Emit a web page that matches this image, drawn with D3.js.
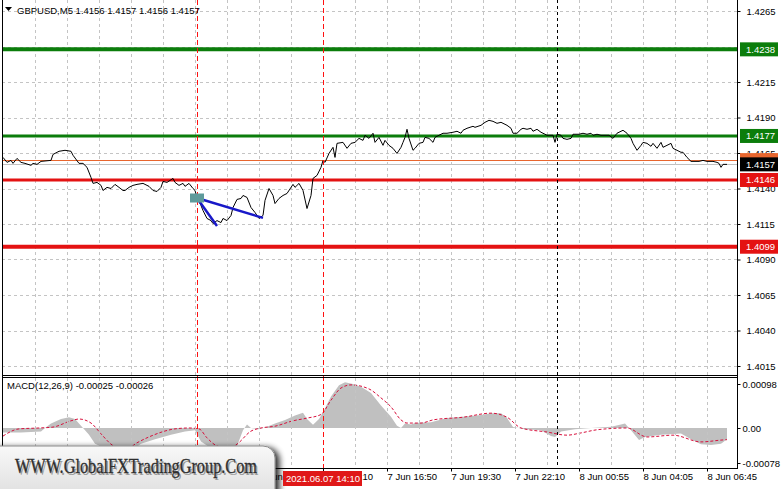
<!DOCTYPE html>
<html><head><meta charset="utf-8">
<script src="https://cdn.jsdelivr.net/npm/d3@7"></script>
<style>
body{margin:0;background:#fff}
svg{display:block}
</style>
</head><body>
<svg id="c" width="781" height="489" font-family="Liberation Sans, Arial, sans-serif"></svg>
<script>
// ---------- DATA ----------
const symbol = "GBPUSD,M5";
const ohlc = [1.4156, 1.4157, 1.4156, 1.4157];
const currentBid = 1.4157;
const orangeLevel = 1.4160;
const levelValues = [1.4238, 1.4177, 1.4146, 1.4099];
const gridPrices = [1.4265, 1.4240, 1.4215, 1.4190, 1.4165, 1.4140, 1.4115, 1.4090, 1.4065, 1.4040, 1.4015];
const priceTicks = [1.4265, 1.4215, 1.4190, 1.4165, 1.4140, 1.4115, 1.4090, 1.4065, 1.4040, 1.4015];
const macdTicks = [0.00098, 0, -0.00078];
const macdValues = [-0.00025, -0.00026];
const timeBars = [128, 160, 192, 224, 256, 288, 320, 352];
const timeLabels = ["7 Jun 11:30", "7 Jun 14:10", "7 Jun 16:50", "7 Jun 19:30", "7 Jun 22:10", "8 Jun 00:55", "8 Jun 04:05", "8 Jun 06:45"];
const markBars = [97, 160];      // red dashed verticals
const cursorBar = 277;           // black dashed vertical
const markLabel = "2021.06.07 14:10";
const arrowFrom = [97, 1.41333];
const arrowTo = [[130, 1.41193], [107, 1.41136]];
const watermark = "WWW.GlobalFXTradingGroup.Com";

// [bar index, close]
const priceData = [
[0,1.41619],[2,1.41584],[4,1.41598],[5,1.41577],[7,1.41612],[9,1.41584],[11,1.41577],[14,1.41563],[15,1.41577],[17,1.41570],
[19,1.41591],[24,1.41598],[25,1.41640],[28,1.41662],[31,1.41669],[34,1.41662],[35,1.41634],[38,1.41577],[40,1.41577],[42,1.41549],
[44,1.41478],[45,1.41436],[47,1.41443],[49,1.41422],[50,1.41386],[52,1.41408],[54,1.41400],[56,1.41429],[58,1.41408],[60,1.41386],
[61,1.41386],[63,1.41408],[65,1.41422],[67,1.41429],[70,1.41436],[73,1.41415],[75,1.41386],[77,1.41379],[79,1.41408],[80,1.41450],
[82,1.41443],[85,1.41471],[86,1.41443],[88,1.41422],[90,1.41436],[91,1.41415],[93,1.41436],[95,1.41400],[96,1.41386],[97,1.41337],
[99,1.41280],[100,1.41245],[102,1.41189],[104,1.41174],[105,1.41153],[107,1.41174],[109,1.41160],[110,1.41189],[112,1.41174],[114,1.41210],
[115,1.41266],[117,1.41323],[119,1.41330],[120,1.41351],[122,1.41337],[124,1.41266],[126,1.41231],[128,1.41189],[130,1.41210],[131,1.41316],
[133,1.41400],[135,1.41351],[136,1.41294],[138,1.41330],[140,1.41351],[142,1.41365],[145,1.41429],[146,1.41408],[148,1.41436],[150,1.41386],
[152,1.41259],[154,1.41351],[155,1.41471],[157,1.41492],[159,1.41549],[160,1.41598],[161,1.41584],[163,1.41647],[165,1.41690],[166,1.41619],
[167,1.41718],[170,1.41725],[172,1.41683],[174,1.41718],[176,1.41725],[178,1.41753],[180,1.41739],[181,1.41775],[183,1.41753],[185,1.41789],
[186,1.41725],[188,1.41760],[190,1.41704],[191,1.41739],[193,1.41704],[195,1.41683],[197,1.41647],[199,1.41690],[200,1.41725],[201,1.41760],
[202,1.41817],[203,1.41753],[205,1.41669],[206,1.41683],[208,1.41718],[210,1.41725],[211,1.41760],[213,1.41753],[215,1.41725],[216,1.41760],
[218,1.41775],[220,1.41789],[222,1.41789],[225,1.41796],[227,1.41803],[229,1.41789],[230,1.41810],[232,1.41824],[235,1.41838],[236,1.41831],
[239,1.41845],[241,1.41866],[243,1.41880],[245,1.41873],[247,1.41859],[249,1.41866],[250,1.41859],[252,1.41845],[254,1.41824],[255,1.41789],
[257,1.41789],[259,1.41817],[260,1.41824],[262,1.41817],[264,1.41824],[265,1.41803],[267,1.41817],[269,1.41796],[270,1.41789],[272,1.41775],
[275,1.41775],[276,1.41725],[277,1.41782],[279,1.41775],[280,1.41753],[282,1.41746],[284,1.41753],[285,1.41782],[288,1.41782],[290,1.41789],
[292,1.41782],[294,1.41789],[295,1.41775],[297,1.41782],[299,1.41775],[301,1.41775],[303,1.41775],[305,1.41753],[307,1.41789],[309,1.41803],
[310,1.41810],[312,1.41789],[314,1.41753],[315,1.41718],[317,1.41669],[319,1.41704],[320,1.41725],[322,1.41718],[324,1.41697],[325,1.41718],
[327,1.41683],[329,1.41725],[330,1.41690],[332,1.41704],[334,1.41718],[335,1.41683],[337,1.41669],[339,1.41655],[340,1.41655],[342,1.41619],
[344,1.41591],[345,1.41591],[348,1.41591],[350,1.41598],[352,1.41591],[355,1.41591],[357,1.41584],[358,1.41577],[359,1.41549],[360,1.41570],
[362,1.41570]
];

// [bar index, MACD histogram]
const histData = [
[0,-0.00010],[9,-0.00010],[19,-0.00008],[21,0.00000],[24,0.00010],[29,0.00020],[33,0.00024],[36,0.00020],[40,0.00000],[43,-0.00015],
[46,-0.00035],[51,-0.00045],[59,-0.00050],[66,-0.00045],[69,-0.00035],[76,-0.00025],[84,-0.00015],[91,-0.00008],[96,-0.00005],[99,-0.00030],
[104,-0.00045],[111,-0.00050],[117,-0.00040],[120,-0.00005],[122,0.00008],[124,0.00000],[128,-0.00003],[132,0.00003],[136,0.00010],[141,0.00018],
[146,0.00028],[150,0.00034],[152,0.00020],[155,0.00007],[158,0.00020],[160,0.00035],[164,0.00070],[168,0.00095],[171,0.00102],[175,0.00098],
[179,0.00092],[184,0.00078],[189,0.00050],[194,0.00025],[197,0.00005],[199,0.00000],[201,0.00010],[204,0.00008],[206,0.00011],[214,0.00013],
[222,0.00022],[230,0.00025],[239,0.00029],[244,0.00033],[249,0.00033],[252,0.00022],[255,0.00002],[261,-0.00003],[269,-0.00005],[274,-0.00018],
[276,-0.00020],[279,-0.00008],[286,-0.00003],[294,0.00000],[304,0.00003],[309,0.00008],[311,0.00010],[314,-0.00005],[318,-0.00027],[321,-0.00020],
[329,-0.00015],[339,-0.00012],[344,-0.00025],[349,-0.00036],[354,-0.00038],[359,-0.00035],[362,-0.00025]
];

// [bar index, MACD signal]
const signalData = [
[0,-0.00018],[8,-0.00002],[18,0.00000],[25,0.00002],[34,0.00016],[38,0.00020],[44,0.00011],[49,-0.00013],[54,-0.00036],[61,-0.00049],
[67,-0.00033],[74,-0.00018],[86,-0.00002],[93,0.00000],[98,-0.00002],[102,-0.00022],[107,-0.00040],[113,-0.00045],[117,-0.00036],[124,-0.00007],
[129,0.00000],[136,0.00004],[145,0.00016],[152,0.00022],[159,0.00030],[164,0.00062],[169,0.00089],[174,0.00096],[183,0.00087],[189,0.00067],
[194,0.00047],[199,0.00018],[202,0.00011],[209,0.00011],[215,0.00018],[230,0.00024],[244,0.00033],[252,0.00024],[259,0.00000],[272,-0.00009],
[282,-0.00016],[289,-0.00011],[297,-0.00004],[312,0.00000],[322,-0.00020],[335,-0.00016],[349,-0.00031],[359,-0.00027],[362,-0.00026]
];

// ---------- LAYOUT / STYLE ----------
const FONT = "Liberation Sans, Arial, sans-serif";
const SERIF = "Liberation Serif, Times New Roman, serif";
const L = 2, R = 737, mainTop = 0, mainBot = 375, macdTop = 377, macdBot = 468;
const green = "#0b7d0b", red = "#e41212", orange = "#e8662e";
const levelStyle = [{c: green, w: 4}, {c: green, w: 3}, {c: red, w: 3}, {c: red, w: 4}];
const grid = "#c4c4c4";

const x = d3.scaleLinear().domain([0, 362]).range([3, 727]);
const y = d3.scaleLinear().domain([1.4015, 1.4265]).range([366, 11]);
const ym = d3.scaleLinear().domain([-0.00078, 0.00098]).range([463, 384]);
const px = v => Math.round(v) + 0.5;

const svg = d3.select("#c");
const defs = svg.append("defs");
defs.append("clipPath").attr("id", "cm").append("rect").attr("x", L).attr("y", mainTop).attr("width", R - L).attr("height", mainBot - mainTop);
defs.append("clipPath").attr("id", "cd").append("rect").attr("x", L).attr("y", macdTop).attr("width", R - L).attr("height", macdBot - macdTop);
const gr = defs.append("linearGradient").attr("id", "wg").attr("x1", 0).attr("y1", 0).attr("x2", 0).attr("y2", 1);
gr.append("stop").attr("offset", "0%").attr("stop-color", "#f8f8f8");
gr.append("stop").attr("offset", "100%").attr("stop-color", "#dadada");
const f = defs.append("filter").attr("id", "sh").attr("x", "-20%").attr("y", "-50%").attr("width", "150%").attr("height", "200%");
f.append("feGaussianBlur").attr("in", "SourceAlpha").attr("stdDeviation", 3);
f.append("feOffset").attr("dx", 4).attr("dy", 2).attr("result", "b");
f.append("feComponentTransfer").append("feFuncA").attr("type", "linear").attr("slope", 0.85);
const fm = f.append("feMerge"); fm.append("feMergeNode"); fm.append("feMergeNode").attr("in", "SourceGraphic");

svg.append("rect").attr("width", 781).attr("height", 489).attr("fill", "#fff");

// main panel content
const main = svg.append("g").attr("clip-path", "url(#cm)");
main.append("line").attr("x1", L).attr("x2", R).attr("y1", px(y(orangeLevel))).attr("y2", px(y(orangeLevel))).attr("stroke", orange);
main.append("line").attr("x1", L).attr("x2", R).attr("y1", px(y(currentBid))).attr("y2", px(y(currentBid))).attr("stroke", "#c0c0c0");

// MACD panel
const macd = svg.append("g").attr("clip-path", "url(#cd)");
macd.append("path").datum(histData)
  .attr("d", d3.area().x(d => x(d[0])).y0(ym(0)).y1(d => ym(d[1])))
  .attr("fill", "#c0c0c0");

// grid (drawn over histogram like the terminal does)
const gridBars = d3.range(16, 360, 16).filter(b => !markBars.includes(b));
svg.append("g").attr("shape-rendering", "crispEdges").selectAll("line").data(gridBars).join("line")
  .attr("x1", d => px(x(d))).attr("x2", d => px(x(d))).attr("y1", mainTop).attr("y2", macdBot)
  .attr("stroke", grid).attr("stroke-dasharray", "3,3");
svg.append("g").attr("shape-rendering", "crispEdges").attr("clip-path", "url(#cm)").selectAll("line").data(gridPrices).join("line")
  .attr("x1", L).attr("x2", R).attr("y1", d => px(y(d))).attr("y2", d => px(y(d)))
  .attr("stroke", grid).attr("stroke-dasharray", "3,3");

macd.append("path").datum(signalData)
  .attr("d", d3.line().curve(d3.curveMonotoneX).x(d => x(d[0])).y(d => ym(d[1])))
  .attr("fill", "none").attr("stroke", "#d8103c").attr("stroke-width", 1).attr("stroke-dasharray", "3,2");

const main2 = svg.append("g").attr("clip-path", "url(#cm)");
main2.selectAll("line.lv").data(levelValues).join("line").attr("class", "lv")
  .attr("x1", L).attr("x2", R).attr("y1", d => y(d)).attr("y2", d => y(d))
  .attr("stroke", (d, i) => levelStyle[i].c).attr("stroke-width", (d, i) => levelStyle[i].w);
main2.append("path").datum(priceData)
  .attr("d", d3.line().x(d => x(d[0])).y(d => y(d[1])))
  .attr("fill", "none").attr("stroke", "#000").attr("stroke-width", 1);

// vertical markers
svg.append("g").attr("shape-rendering", "crispEdges").selectAll("line.mk").data(markBars).join("line").attr("class", "mk")
  .attr("x1", d => px(x(d))).attr("x2", d => px(x(d))).attr("y1", mainTop).attr("y2", macdBot)
  .style("stroke", "#ff1010").attr("stroke-width", 1).attr("stroke-dasharray", "5,3");
svg.append("line").attr("shape-rendering", "crispEdges")
  .attr("x1", px(x(cursorBar))).attr("x2", px(x(cursorBar))).attr("y1", mainTop).attr("y2", macdBot)
  .attr("stroke", "#000").attr("stroke-dasharray", "3,3");

// arrow drawing
const ag = svg.append("g");
ag.selectAll("line").data(arrowTo).join("line")
  .attr("x1", x(arrowFrom[0])).attr("y1", y(arrowFrom[1]))
  .attr("x2", d => x(d[0])).attr("y2", d => y(d[1]))
  .attr("stroke", "#1818c8").attr("stroke-width", 2.5);
ag.append("rect").attr("x", x(arrowFrom[0]) - 7).attr("y", y(arrowFrom[1]) - 4.5).attr("width", 14).attr("height", 9)
  .attr("fill", "#5e9a9b");

// frame
const frame = svg.append("g").attr("stroke", "#000").attr("fill", "none").attr("shape-rendering", "crispEdges");
frame.append("line").attr("x1", L + 0.5).attr("x2", L + 0.5).attr("y1", 0).attr("y2", macdBot + 0.5);
frame.append("line").attr("x1", R + 0.5).attr("x2", R + 0.5).attr("y1", 0).attr("y2", macdBot + 0.5);
frame.append("line").attr("x1", L).attr("x2", R + 1).attr("y1", mainBot + 0.5).attr("y2", mainBot + 0.5);
frame.append("line").attr("x1", L).attr("x2", R + 1).attr("y1", macdTop + 0.5).attr("y2", macdTop + 0.5);
frame.append("line").attr("x1", L).attr("x2", R + 1).attr("y1", macdBot + 0.5).attr("y2", macdBot + 0.5);

// axes
function styleAxis(g) {
  g.select(".domain").remove();
  g.attr("font-family", FONT);
  g.selectAll("line").attr("stroke", "#000");
  g.selectAll("text").attr("font-family", FONT).attr("font-size", 9.5).attr("fill", "#000");
}
svg.append("g").attr("transform", `translate(${R + 0.5},0)`)
  .call(d3.axisRight(y).tickValues(priceTicks).tickFormat(d3.format(".4f")).tickSize(3).tickPadding(6))
  .call(styleAxis);
svg.append("g").attr("transform", `translate(${R + 0.5},0)`)
  .call(d3.axisRight(ym).tickValues(macdTicks).tickFormat(d => d === 0 ? "0.00" : d.toFixed(5)).tickSize(3).tickPadding(2))
  .call(styleAxis);
svg.append("g").attr("transform", `translate(0,${macdBot + 0.5})`)
  .call(d3.axisBottom(x).tickValues(timeBars).tickFormat((d, i) => timeLabels[i]).tickSize(3).tickPadding(2))
  .call(styleAxis)
  .call(g => g.selectAll("text").attr("text-anchor", "start").attr("x", 0));

// price labels on the right
function tag(v, bg, label) {
  const g = svg.append("g");
  g.append("rect").attr("x", R + 3).attr("y", y(v) - 7).attr("width", 38).attr("height", 14).attr("fill", bg);
  g.append("text").attr("x", R + 9).attr("y", y(v) + 3.5).attr("fill", "#fff").attr("font-size", 9.5).text(label);
}
levelValues.forEach((v, i) => tag(v, levelStyle[i].c, v.toFixed(4)));
tag(orangeLevel, orange, orangeLevel.toFixed(4));
tag(currentBid, "#000", currentBid.toFixed(4));

// title and MACD caption
svg.append("path").attr("d", "M5,7 L12,7 L8.5,11 Z").attr("fill", "#000");
svg.append("text").attr("x", 17).attr("y", 14).attr("font-size", 9.5)
  .text(symbol + "  " + ohlc.map(d => d.toFixed(4)).join(" "));
svg.append("text").attr("x", 7).attr("y", 389).attr("font-size", 9.5)
  .text("MACD(12,26,9) " + macdValues.map(d => d.toFixed(5)).join(" "));

// watermark
const wm = svg.append("g");
wm.append("rect").attr("x", -14).attr("y", 446).attr("width", 289).attr("height", 60).attr("rx", 12)
  .attr("fill", "url(#wg)").attr("stroke", "#8a8a8a").attr("filter", "url(#sh)");
wm.append("text").attr("x", 16.5).attr("y", 474.5).attr("font-family", SERIF)
  .attr("font-size", 22).attr("fill", "#9a9a9a").attr("textLength", 242).attr("lengthAdjust", "spacingAndGlyphs").text(watermark);
wm.append("text").attr("x", 15).attr("y", 473).attr("font-family", SERIF)
  .attr("font-size", 22).attr("fill", "#2e2e2e").attr("stroke", "#2e2e2e").attr("stroke-width", 0.3)
  .attr("textLength", 242).attr("lengthAdjust", "spacingAndGlyphs").text(watermark);

// red time marker label
const tl = svg.append("g");
tl.append("rect").attr("x", 283).attr("y", 471).attr("width", 79).attr("height", 15).attr("fill", "#e01818");
tl.append("text").attr("x", 286).attr("y", 482).attr("fill", "#fff").attr("font-size", 9.5).text(markLabel);
</script>
</body></html>
